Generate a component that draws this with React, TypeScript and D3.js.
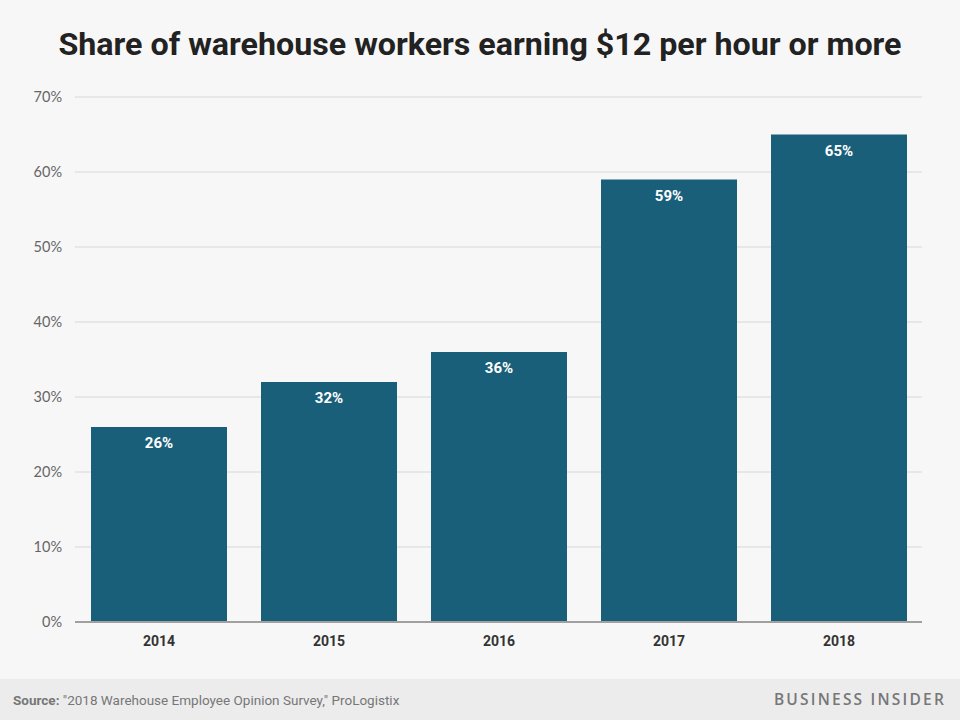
import React from "react";
import * as d3 from "d3";

const years = ["2014", "2015", "2016", "2017", "2018"];
const shares = [26, 32, 36, 59, 65];
const yTicks = [0, 10, 20, 30, 40, 50, 60, 70];

const W = 960;
const H = 720;

export default function App() {
  const x = d3.scaleBand<string>().domain(years).range([74, 924]).paddingInner(0.2).paddingOuter(0.1);
  const y = d3.scaleLinear().domain([0, 70]).range([622, 97]);

  return (
    <svg width={W} height={H} style={{ position: "absolute", left: 0, top: 0 }}>
      <rect x={0} y={0} width={W} height={H} fill="#f7f7f7" />
      <text x={480} y={55} textAnchor="middle" fontFamily="Roboto, sans-serif" fontWeight={700}
        fontSize={31} fill="#222" textLength={843} lengthAdjust="spacingAndGlyphs">
        Share of warehouse workers earning $12 per hour or more
      </text>
      {yTicks.map((t) => (
        <g key={t}>
          {t > 0 && <line x1={75} x2={922} y1={y(t)} y2={y(t)} stroke="#e2e2e2" strokeWidth={1.5} />}
          <text x={62} y={y(t) + 5} textAnchor="end" fontFamily="Lato, sans-serif" fontSize={14.5} fill="#666">
            {t}%
          </text>
        </g>
      ))}
      {years.map((yr, i) => (
        <g key={yr}>
          <rect x={x(yr)} y={y(shares[i])} width={x.bandwidth()} height={y(0) - y(shares[i])} fill="#1a5f7a" />
          <text x={(x(yr) as number) + x.bandwidth() / 2} y={y(shares[i]) + 21} textAnchor="middle"
            fontFamily="Roboto, sans-serif" fontWeight={700} fontSize={15} fill="#ffffff">
            {shares[i]}%
          </text>
          <text x={(x(yr) as number) + x.bandwidth() / 2} y={646} textAnchor="middle"
            fontFamily="Roboto, sans-serif" fontWeight={700} fontSize={14} fill="#333">
            {yr}
          </text>
        </g>
      ))}
      <line x1={75} x2={922} y1={y(0)} y2={y(0)} stroke="#a0a0a0" strokeWidth={2} />
      <rect x={0} y={679} width={W} height={41} fill="#ececec" />
      <text x={13} y={705} fontFamily="Roboto, sans-serif" fontSize={13.5} fill="#777">
        <tspan fontWeight={700}>Source:</tspan> "2018 Warehouse Employee Opinion Survey," ProLogistix
      </text>
      <text x={946} y={705} textAnchor="end" fontFamily="'Open Sans', sans-serif" fontWeight={600}
        fontSize={15.5} letterSpacing={2.2} fill="#777">
        BUSINESS INSIDER
      </text>
    </svg>
  );
}
